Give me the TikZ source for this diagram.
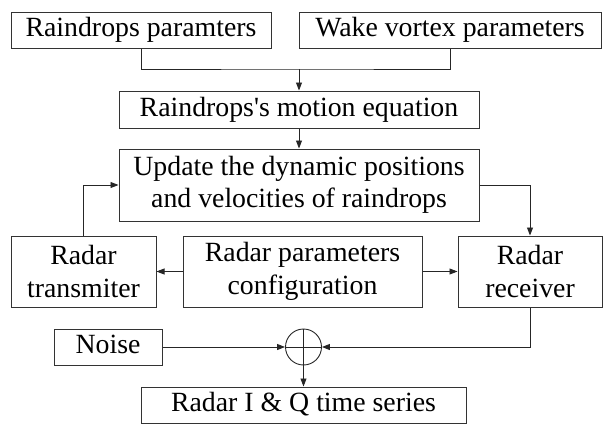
\documentclass[tikz,border=0pt]{standalone}
\usepackage{fontspec}
\setmainfont{Liberation Serif}[Ligatures=NoCommon]
\newfontfamily\figfont{Liberation Serif}
\usetikzlibrary{arrows.meta}
\begin{document}
\begin{tikzpicture}[x=1pt,y=-1pt,
  blk/.style={draw=black!80, line width=1pt, inner sep=0pt, align=center,
    font=\figfont\fontsize{27.8}{32.5}\selectfont},
  one/.style={blk, text height=19.5pt, text depth=6pt},
  arr/.style={draw=black!85, line width=0.9pt, -{Triangle[length=8pt,width=6pt]}},
  ln/.style={draw=black!85, line width=0.9pt}]
\useasboundingbox (0,0) rectangle (610,423);
\node[one, minimum width=260pt, minimum height=36pt] (b1) at (141,30) {Raindrops paramters};
\node[one, minimum width=302pt, minimum height=36pt] (b2) at (450,30) {Wake vortex parameters};
\node[one, minimum width=360pt, minimum height=37pt] (b3) at (299,109.5) {Raindrops\char"0027 s motion equation};
\node[blk, minimum width=360pt, minimum height=72pt] (b4) at (299,185) {Update the dynamic positions\\and velocities of raindrops};
\node[blk, minimum width=145pt, minimum height=71pt] (b5) at (83.5,271.5) {Radar\\transmiter};
\node[blk, minimum width=239pt, minimum height=71pt] (b6) at (302.5,271.5) {Radar parameters\\configuration};
\node[blk, minimum width=144pt, minimum height=71pt] (b7) at (530,271.5) {Radar\\receiver};
\node[one, minimum width=108pt, minimum height=36pt] (noise) at (108,347) {Noise};
\node[circle, draw=black!85, line width=0.9pt, minimum size=36pt, inner sep=0pt] (sum) at (303.5,347) {};
\node[one, minimum width=325pt, minimum height=36pt] (out) at (303.5,405) {Radar I \& Q time series};
\coordinate (j) at (299,69);
\draw[ln] (b1.south) |- (j) -| (b2.south);
\draw[arr] (j) -- (b3.north);
\draw[arr] (b3.south) -- (b4.north);
\draw[arr] (b5.north) |- (b4.west);
\draw[arr] (b4.east) -| (b7.north);
\draw[arr] (b6.west) -- (b5.east);
\draw[arr] (b6.east) -- (b7.west);
\draw[arr] (noise.east) -- (sum.west);
\draw[arr] (b7.south) |- (sum.east);
\draw[ln] (sum.north) -- (sum.south);
\draw[ln] (sum.west) -- (sum.east);
\draw[arr] (sum.south) -- (out.north);
\end{tikzpicture}
\end{document}
